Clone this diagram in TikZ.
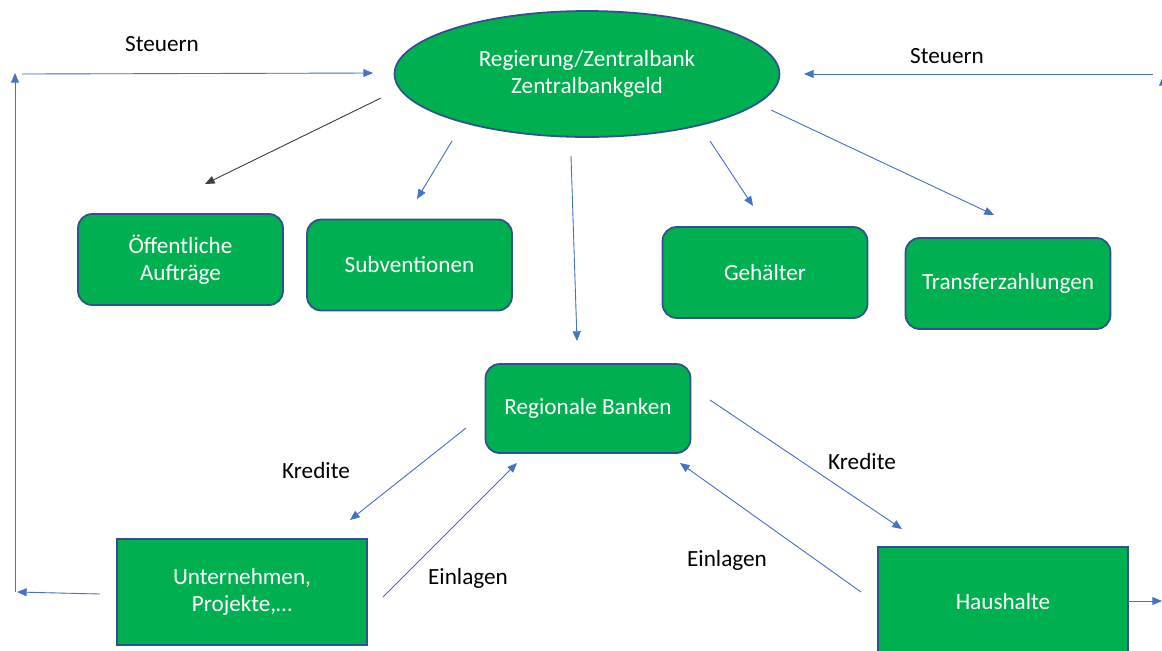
\documentclass[tikz,border=0pt]{standalone}
\usepackage{fontspec}
\setmainfont{Carlito}
\usepackage{xcolor}
\usetikzlibrary{shapes.geometric,arrows.meta,positioning}
\definecolor{boxgreen}{HTML}{00B050}
\definecolor{boxline}{HTML}{2F528F}
\definecolor{arrowblue}{HTML}{4472C4}

\begin{document}
\begin{tikzpicture}[x=0.02cm, y=-0.02cm,
  box/.style={draw=boxline, line width=1pt, fill=boxgreen, rounded corners=8pt, minimum width=4.1cm, minimum height=1.82cm, align=center, text=white, font=\fontsize{13.2}{15.3}\selectfont},
  flat/.style={box, rounded corners=0pt, minimum width=5cm},
  lbl/.style={font=\fontsize{13.2}{15.3}\selectfont},
  arrow/.style={-{Triangle[length=5.5pt, width=4.5pt]}, draw=arrowblue, fill=arrowblue, line width=0.5pt}
]
  \useasboundingbox (0,0) rectangle (1162,650);

  \node[box, ellipse, rounded corners=0pt, minimum width=7.7cm, minimum height=2.52cm] (rzb) at (587,74) {Regierung/Zentralbank\\Zentralbankgeld};

  \node[box] (auftr)    at (180.5,259.5) {Öffentliche\\Aufträge};
  \node[box] (subv)     at (409.5,265)   {Subventionen};
  \node[box] (gehalt)   at (765,272.5)   {Gehälter};
  \node[box] (transfer) at (1008,283.5)  {Transferzahlungen};
  \node[box, minimum height=1.78cm] (banken) at (588,408.5) {Regionale Banken};
  \node[flat, minimum height=2.12cm] (untern) at (242,592) {Unternehmen,\\Projekte,…};
  \node[flat, minimum height=2.2cm]  (haush)  at (1003,602) {Haushalte};

  \node[lbl] (steuerL) at (162,44)  {Steuern};
  \node[lbl] (steuerR) at (947,56)  {Steuern};
  \node[lbl] (kreditL) at (316,471) {Kredite};
  \node[lbl] (einlagL) at (468,578) {Einlagen};
  \node[lbl] (kreditR) at (862,462) {Kredite};
  \node[lbl] (einlagR) at (727,560) {Einlagen};

  % free arrow ends
  \coordinate (g1) at (381,98);   \coordinate (a1) at (205,184);
  \coordinate (g2) at (452,141);  \coordinate (s1) at (417,199);
  \coordinate (g3) at (571,156);  \coordinate (b1) at (577,341);
  \coordinate (g4) at (710,141);  \coordinate (h1) at (753,206);
  \coordinate (g5) at (771,110);  \coordinate (t1) at (994,215);
  \coordinate (u1) at (100,594);  \coordinate (l1) at (17,592);
  \coordinate (l2) at (15,592);   \coordinate (l3) at (15,73);
  \coordinate (l4) at (22,74);    \coordinate (g0) at (373,73);
  \coordinate (r1) at (1153,74);  \coordinate (g6) at (804,74);
  \coordinate (r2) at (1163,601); \coordinate (r3) at (1163,76);
  \coordinate (h2) at (1128,601); \coordinate (r4) at (1162,601);
  \coordinate (b2) at (466,428);  \coordinate (u2) at (350,520);
  \coordinate (u3) at (383,597);  \coordinate (b3) at (517,463);
  \coordinate (b4) at (710,400);  \coordinate (h3) at (902,529);
  \coordinate (h4) at (861,592);  \coordinate (b5) at (680,463);

  \draw[arrow, draw=black!75, fill=black] (g1) -- (a1);
  \foreach \i/\j in {g2/s1,g3/b1,g4/h1,g5/t1,u1/l1,l2/l3,l4/g0,r1/g6,r2/r3,h2/r4,b2/u2,u3/b3,b4/h3,h4/b5}
    \draw[arrow] (\i) -- (\j);
\end{tikzpicture}
\end{document}
